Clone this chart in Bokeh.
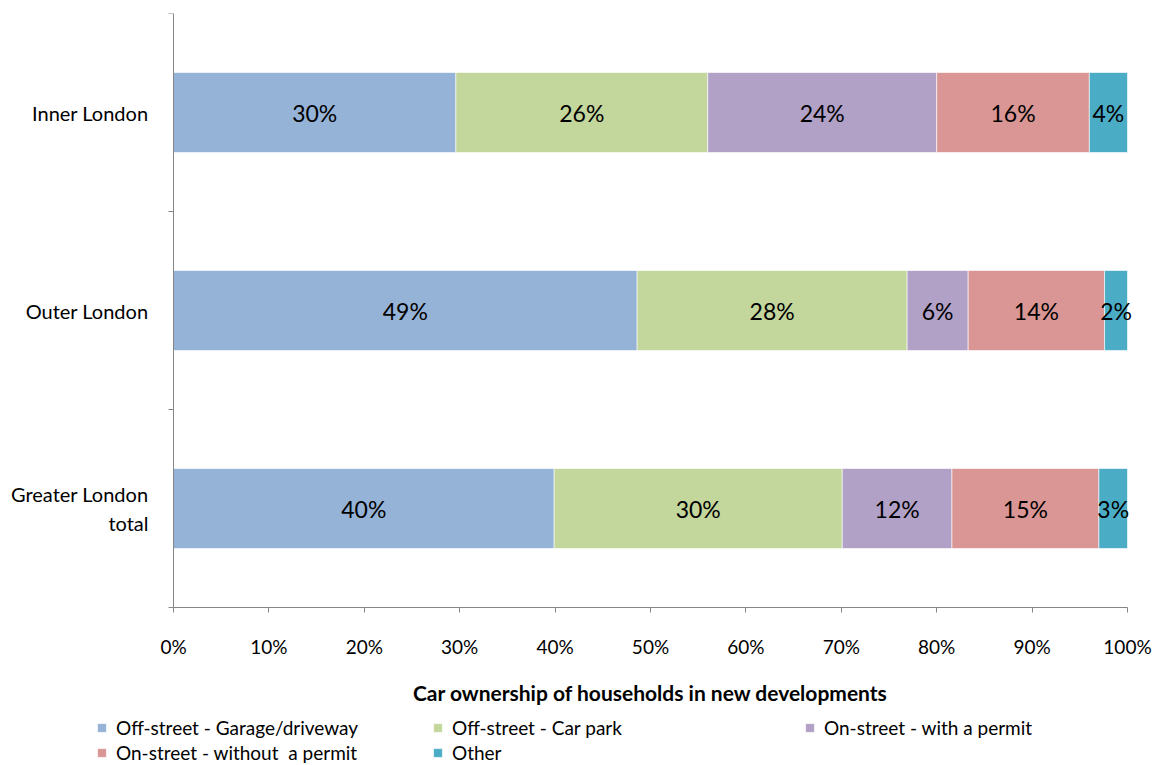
from bokeh.plotting import figure
from bokeh.models import (Range1d, FixedTicker, PrintfTickFormatter, Legend,
                          LegendItem, ColumnDataSource)
from bokeh.core.properties import value
from bokeh.embed import file_html
from bokeh.resources import INLINE

categories = ["Inner London", "Outer London", "Greater London\ntotal"]
series_names = ["Off-street - Garage/driveway", "Off-street - Car park",
                "On-street - with a permit", "On-street - without  a permit", "Other"]
garage = [29.6, 48.6, 39.9]
car_park = [26.4, 28.3, 30.2]
with_permit = [24.0, 6.4, 11.5]
without_permit = [16.0, 14.3, 15.4]
other = [4.0, 2.4, 3.0]
x_ticks = [0, 10, 20, 30, 40, 50, 60, 70, 80, 90, 100]
colors = ["#95B3D7", "#C3D69B", "#B2A1C7", "#D99694", "#4BACC6"]

FONT = "Lato"
W, H = 1158, 765
AX_LEFT, AX_RIGHT, AX_TOP, AX_BOTTOM = 173, 1127, 13, 607  # pixel box of the axes

keys = ["garage", "car_park", "with_permit", "without_permit", "other"]
series_vals = [garage, car_park, with_permit, without_permit, other]
n = len(categories)
ypos = [n - i - 0.5 for i in range(n)]

data = {"y": ypos}
for k, v in zip(keys, series_vals):
    data[k] = v
src = ColumnDataSource(data)

# frame covers the canvas (except the top margin) so legend and labels are not clipped
xs = (AX_RIGHT - AX_LEFT) / 100.0
ys = (AX_BOTTOM - AX_TOP) / n
x_range = Range1d(-AX_LEFT / xs, 100 + (W - AX_RIGHT) / xs)
y_range = Range1d(-(H - AX_BOTTOM) / ys, n)

p = figure(width=W, height=H, output_backend="svg", toolbar_location=None,
           x_range=x_range, y_range=y_range,
           min_border_left=0, min_border_right=0,
           min_border_top=AX_TOP, min_border_bottom=0)
p.outline_line_color = None
p.xgrid.grid_line_color = None
p.ygrid.grid_line_color = None

rs = p.hbar_stack(keys, y="y", height=0.404, color=colors, source=src,
                  line_color="white", line_alpha=0.6, line_width=1)

# segment labels
lx, ly, lt = [], [], []
for i in range(n):
    left = 0.0
    for v in series_vals:
        vi = v[i]
        lx.append(left + vi / 2)
        ly.append(ypos[i])
        lt.append(f"{vi:.0f}%")
        left += vi
p.text(x=lx, y=ly, text=lt, text_align="center", text_baseline="middle",
       text_font=value(FONT), text_font_size="23px", text_color="black")

axis_color = "#868686"
# x axis
xa = p.xaxis[0]
xa.fixed_location = 0
xa.bounds = (0, 100)
xa.ticker = FixedTicker(ticks=x_ticks)
xa.formatter = PrintfTickFormatter(format="%d%%")
xa.axis_line_color = axis_color
xa.major_tick_line_color = axis_color
xa.major_tick_out = 5
xa.major_tick_in = 0
xa.minor_tick_line_color = None
xa.major_label_text_font = FONT
xa.major_label_text_font_size = "19px"
xa.major_label_text_color = "black"
xa.major_label_standoff = 22
xa.axis_label = "Car ownership of households in new developments"
xa.axis_label_text_font = FONT
xa.axis_label_text_font_style = "bold"
xa.axis_label_text_font_size = "21px"
xa.axis_label_text_color = "black"
xa.axis_label_standoff = 19

# y axis
ya = p.yaxis[0]
ya.fixed_location = 0
ya.bounds = (0, n)
ya.ticker = FixedTicker(ticks=ypos, minor_ticks=list(range(n + 1)))
ya.major_label_overrides = {y: c for y, c in zip(ypos, categories)}
ya.axis_line_color = axis_color
ya.major_tick_line_color = None
ya.major_tick_out = 0
ya.major_tick_in = 0
ya.minor_tick_line_color = axis_color
ya.minor_tick_out = 5
ya.minor_tick_in = 0
ya.major_label_text_font = FONT
ya.major_label_text_font_size = "20px"
ya.major_label_text_color = "black"
ya.major_label_standoff = 20

# legend: three columns, two rows
cols = [[0, 3], [1, 4], [2]]
col_x = [96, 432, 804]
row_h = 25
legend_top = 715
for idxs, cx in zip(cols, col_x):
    items = [LegendItem(label=series_names[j], renderers=[rs[j]]) for j in idxs]
    bottom = legend_top + row_h * len(idxs)
    leg = Legend(items=items, location=(cx, H - bottom),
                 orientation="vertical", padding=0, margin=0, spacing=0,
                 border_line_color=None, background_fill_alpha=0,
                 glyph_width=11, glyph_height=11, label_height=row_h,
                 label_standoff=9, label_text_font=FONT,
                 label_text_font_size="19px", label_text_color="black")
    p.add_layout(leg)

open("out.html", "w").write(file_html(p, INLINE))
